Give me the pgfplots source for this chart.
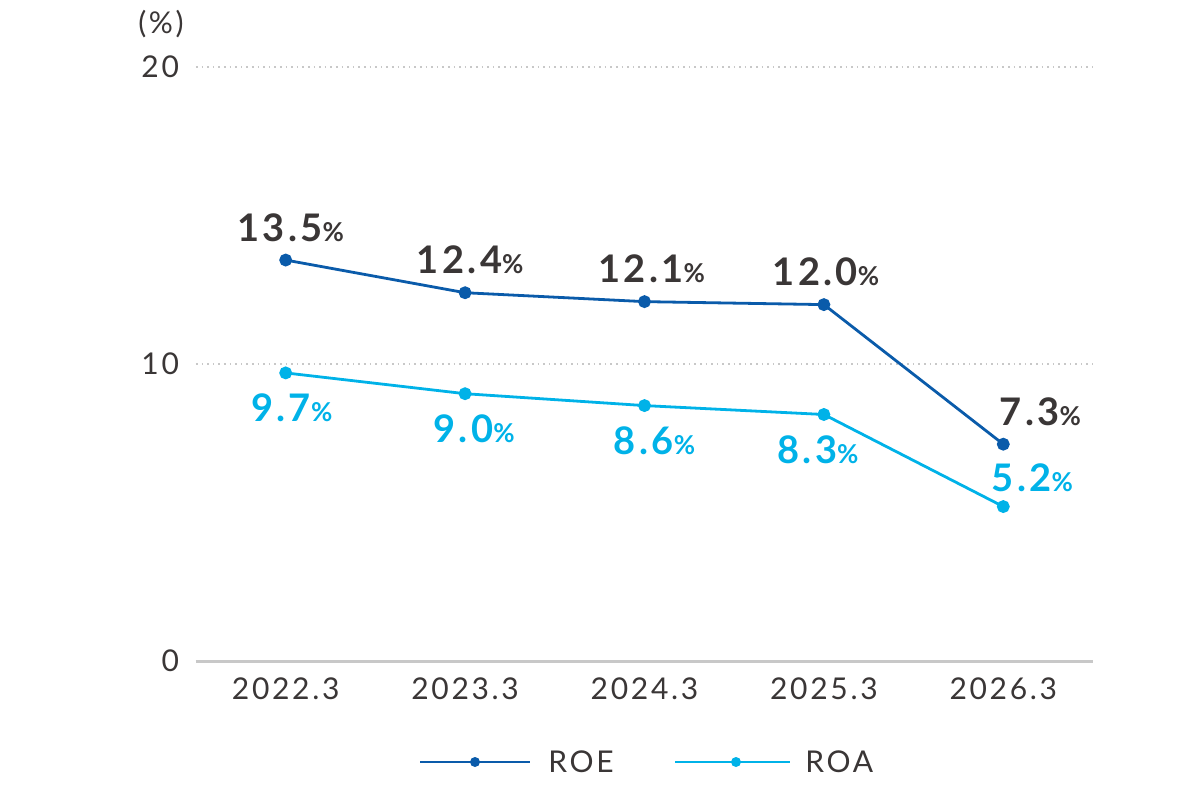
\documentclass[border=0pt]{standalone}
\usepackage{fontspec}
\setmainfont{Lato}[LetterSpace=9]
\usepackage{pgfplots}
\pgfplotsset{compat=1.18}
\definecolor{roe}{HTML}{0A5BAA}
\definecolor{roa}{HTML}{00B2E8}
\definecolor{txt}{HTML}{3A3636}
\definecolor{gridc}{HTML}{C8C8C8}
\newcommand{\vlab}[1]{{\fontsize{19}{20}\bfseries #1}{\fontsize{13}{13}\bfseries\%}}
\begin{document}
\begin{tikzpicture}
\begin{axis}[
  name=ax,
  scale only axis, width=448.5pt, height=297pt,
  xmin=-0.5, xmax=4.5, ymin=0, ymax=20,
  xtick={0,1,2,3,4},
  xticklabels={2022.3,2023.3,2024.3,2025.3,2026.3},
  ytick={0,10,20},
  axis line style={draw=none},
  major tick length=0pt,
  ymajorgrids, grid style={gridc, line width=0.8pt, dotted},
  tick label style={font=\fontsize{15}{15}\selectfont, text=txt},
  /pgf/number format/assume math mode=true,
  yticklabel style={xshift=-5pt},
  xticklabel style={yshift=-5pt},
  clip=false,
]
\draw[gridc, line width=1.5pt] (axis cs:-0.5,0) -- (axis cs:4.5,0);
% ROE
\addplot[roe, line width=1.4pt, mark=*, mark size=2.5pt] coordinates {
  (0,13.5) (1,12.4) (2,12.1) (3,12.0) (4,7.3)};
% ROA
\addplot[roa, line width=1.4pt, mark=*, mark size=2.5pt] coordinates {
  (0,9.7) (1,9.0) (2,8.6) (3,8.3) (4,5.2)};
% value labels, ROE
\node[txt, anchor=base, yshift=9.5pt, xshift=2.5pt] at (axis cs:0,13.5) {\vlab{13.5}};
\node[txt, anchor=base, yshift=9.5pt, xshift=2.5pt] at (axis cs:1,12.4) {\vlab{12.4}};
\node[txt, anchor=base, yshift=9.5pt, xshift=3.5pt] at (axis cs:2,12.1) {\vlab{12.1}};
\node[txt, anchor=base, yshift=9.5pt, xshift=1pt] at (axis cs:3,12.0) {\vlab{12.0}};
\node[txt, anchor=base, yshift=9.5pt, xshift=18.5pt] at (axis cs:4,7.3) {\vlab{7.3}};
% value labels, ROA
\node[roa, anchor=base, yshift=-24.5pt, xshift=3pt] at (axis cs:0,9.7) {\vlab{9.7}};
\node[roa, anchor=base, yshift=-24.5pt, xshift=4.5pt] at (axis cs:1,9.0) {\vlab{9.0}};
\node[roa, anchor=base, yshift=-24.5pt, xshift=5pt] at (axis cs:2,8.6) {\vlab{8.6}};
\node[roa, anchor=base, yshift=-24.5pt, xshift=-3pt] at (axis cs:3,8.3) {\vlab{8.3}};
\node[roa, anchor=base, yshift=7.5pt, xshift=14.5pt] at (axis cs:4,5.2) {\vlab{5.2}};
\end{axis}
% page frame, placed relative to the plot area
\path (ax.south west) ++(-98pt,-64pt) coordinate (O);
\pgfresetboundingbox
\path[use as bounding box] (O) rectangle ++(600pt,394.5pt);
\begin{scope}[shift={(O)}, x=1pt, y=1pt]
% unit
\node[txt, font=\fontsize{15}{15}\selectfont] at (80.5,382.5) {(\%)};
% legend
\draw[roe, line width=1.4pt] (210,13.5) -- (265,13.5);
\fill[roe] (237.5,13.5) circle (2.5pt);
\node[txt, anchor=west, inner sep=0pt, font=\fontsize{15}{15}\selectfont] at (274,13.5) {ROE};
\draw[roa, line width=1.4pt] (337.5,13.5) -- (395,13.5);
\fill[roa] (368,13.5) circle (2.5pt);
\node[txt, anchor=west, inner sep=0pt, font=\fontsize{15}{15}\selectfont] at (402.5,13.5) {ROA};
\end{scope}
\end{tikzpicture}
\end{document}
